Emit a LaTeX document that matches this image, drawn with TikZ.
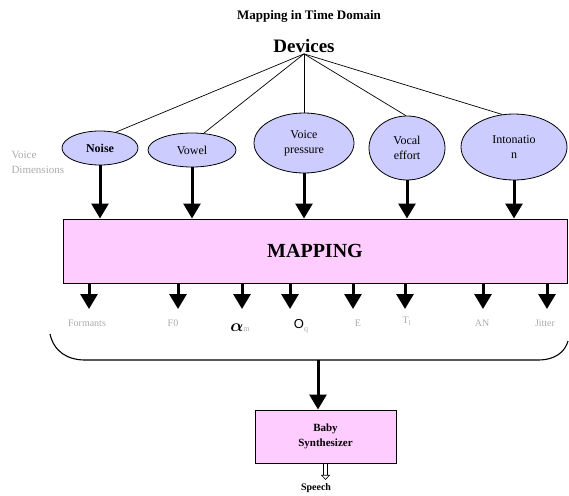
\documentclass[tikz,border=0pt]{standalone}
\usepackage{fontspec}
\usepackage{bm}
\setmainfont{Liberation Serif}
\newfontfamily\sansf{Liberation Sans}
\usetikzlibrary{shapes.geometric,arrows.meta}
\definecolor{dimfill}{HTML}{CCCCFF}
\definecolor{boxfill}{HTML}{FFCCFF}
\definecolor{labelgray}{HTML}{ABABAB}
\begin{document}
\begin{tikzpicture}[x=1pt,y=-1pt,
  dimnode/.style={ellipse, draw, fill=dimfill, line width=0.8pt, inner sep=0pt,
    align=center, font=\fontsize{12}{15}\selectfont},
  pinkbox/.style={draw, fill=boxfill, line width=1pt, inner sep=0pt, align=center},
  bigarrow/.style={line width=3pt, -{Triangle[length=15pt,width=17pt]}},
  linkline/.style={line width=0.7pt},
  param/.style={text=labelgray, font=\fontsize{10}{10}\selectfont}
]
\useasboundingbox (0,0) rectangle (569,495);

% titles
\node[font=\bfseries\fontsize{13}{13}\selectfont] (title) at (309,16) {Mapping in Time Domain};
\node[font=\bfseries\fontsize{19}{19}\selectfont, inner sep=1pt] (dev) at (304,46) {Devices};

% voice dimensions
\node[dimnode, font=\bfseries\fontsize{12}{15}\selectfont, minimum width=76pt, minimum height=34pt] (noise) at (100,148) {Noise};
\node[dimnode, minimum width=88pt, minimum height=34pt] (vowel) at (192,150) {Vowel};
\node[dimnode, minimum width=100pt, minimum height=60pt] (vp) at (304,143) {Voice\\pressure};
\node[dimnode, minimum width=76pt, minimum height=64pt] (ve) at (407,148) {Vocal\\effort};
\node[dimnode, minimum width=106pt, minimum height=66pt] (into) at (514,147) {Intonatio\\n};

\node[anchor=west, align=left, text=labelgray, font=\fontsize{11}{15}\selectfont] (vdlab) at (8,162) {Voice\\Dimensions};

% links from the devices heading
\foreach \n/\a in {noise/45,vowel/55,vp/90,ve/92,into/110}
  \draw[linkline] (dev.south) -- (\n.\a);

% mapping block
\node[pinkbox, minimum width=504pt, minimum height=64pt, font=\bfseries\fontsize{20}{20}\selectfont] (map) at (315,251) {MAPPING};

\foreach \n in {noise,vowel,vp,ve,into}
  \draw[bigarrow] (\n.south) -- (\n.south |- map.north);

% output parameters
\node[param] (p1) at (87,323) {Formants};
\node[param] (p2) at (173,323) {F0};
\node (p3) at (240,328) {{\fontsize{16}{16}\selectfont$\bm{\alpha}$}\textcolor{labelgray}{\fontsize{8}{8}\selectfont m}};
\node (p4) at (301,326) {{\sansf\fontsize{13}{13}\selectfont O}\textcolor{labelgray}{\raisebox{-3pt}{\fontsize{8}{8}\selectfont q}}};
\node[param] (p5) at (358,323) {E};
\node[param] (p6) at (407,321) {T\textsubscript{l}};
\node[param] (p7) at (482,323) {AN};
\node[param] (p8) at (545,323) {Jitter};

\foreach \i/\x in {1/89,2/178,3/242,4/290,5/353,6/405,7/483,8/547} {
  \coordinate (t\i) at (\x,309);
  \draw[bigarrow] (map.south -| t\i) -- (t\i);
}

% grouping brace
\coordinate (bl) at (50,334);
\coordinate (br) at (568,341);
\coordinate (bm) at (318,360);
\draw[line width=1.1pt] (bl) .. controls (54,352) and (68,360) .. (85,360)
  -- (538,360) .. controls (555,360) and (565,352) .. (br);

% synthesizer
\node[pinkbox, minimum width=141pt, minimum height=53pt, font=\bfseries\fontsize{11}{15}\selectfont] (synth) at (325.5,436.5) {Baby\\Synthesizer};
\draw[bigarrow] (bm) -- (bm |- synth.north);

\node[font=\bfseries\fontsize{10}{10}\selectfont] (speech) at (316,488) {Speech};
\draw[double, double distance=3pt, line width=0.6pt, -{Triangle[open,length=5pt,width=9pt]}]
  (synth.south) -- (synth.south |- speech.north);
\end{tikzpicture}
\end{document}
